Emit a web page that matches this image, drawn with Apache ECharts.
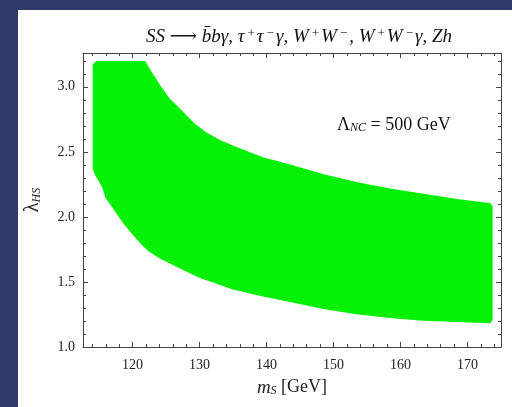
<!DOCTYPE html>
<html>
<head>
<meta charset="utf-8">
<script src="https://cdn.jsdelivr.net/npm/echarts@6/dist/echarts.min.js"></script>
<style>html,body{margin:0;padding:0;background:#2e3a6c;}#c{width:512px;height:407px;}</style>
</head>
<body>
<div id="c"></div>
<script>
// Band boundary (allowed region)
var upperX = [114.2, 114.6, 121.8, 122.5, 124.1, 125.5, 127.5, 129.2, 131.0, 133.0, 135.0, 137.2, 139.5, 141.7, 143.9, 148.5, 153.4, 158.4, 163.4, 168.4, 173.3, 173.6];
var upperY = [3.17, 3.19, 3.19, 3.13, 3.00, 2.90, 2.80, 2.71, 2.64, 2.585, 2.54, 2.495, 2.45, 2.42, 2.39, 2.32, 2.26, 2.21, 2.17, 2.13, 2.10, 2.08];
var lowerX = [114.2, 114.6, 115.6, 116.1, 117.6, 118.8, 120.1, 121.3, 122.5, 124.2, 126.0, 128.0, 130.0, 132.5, 135.0, 139.5, 143.9, 148.5, 153.4, 158.4, 163.4, 168.4, 173.3, 173.6];
var lowerY = [2.37, 2.32, 2.23, 2.15, 2.04, 1.95, 1.87, 1.80, 1.74, 1.685, 1.64, 1.59, 1.54, 1.495, 1.45, 1.395, 1.35, 1.30, 1.26, 1.23, 1.21, 1.20, 1.19, 1.21];

var xMajorTicks = [120, 130, 140, 150, 160, 170];
var xMinorTicks = [114, 116, 118, 122, 124, 126, 128, 132, 134, 136, 138, 142, 144, 146, 148, 152, 154, 156, 158, 162, 164, 166, 168, 172, 174];
var yMajorTicks = [1.0, 1.5, 2.0, 2.5, 3.0];
var yMinorTicks = [1.1, 1.2, 1.3, 1.4, 1.6, 1.7, 1.8, 1.9, 2.1, 2.2, 2.3, 2.4, 2.6, 2.7, 2.8, 2.9, 3.1, 3.2];

var X_MIN = 112.6, X_MAX = 175, Y_MIN = 1.0, Y_MAX = 3.26;
var serif = '"Liberation Serif","DejaVu Serif",serif';
var axisCol = '#444';

function xAx(pos, ticks, len, showLabel, showLine, name) {
  return {
    type: 'value', position: pos, min: X_MIN, max: X_MAX,
    axisLine: {show: showLine, onZero: false, lineStyle: {color: axisCol, width: 1}},
    axisTick: {show: true, inside: true, length: len, customValues: ticks, lineStyle: {color: axisCol}},
    axisLabel: {show: showLabel, customValues: xMajorTicks, margin: 11, color: '#222', fontFamily: serif, fontSize: 14},
    splitLine: {show: false},
    name: name || '', nameLocation: 'middle', nameGap: 31,
    nameTextStyle: {color: '#222', fontFamily: serif, fontSize: 17,
      rich: {i: {fontStyle: 'italic', fontFamily: serif, fontSize: 19, color: '#222'},
             s: {fontStyle: 'italic', fontFamily: serif, fontSize: 12, color: '#222', verticalAlign: 'bottom', lineHeight: 10},
             n: {fontFamily: serif, fontSize: 18, color: '#222'}}}
  };
}
function yAx(pos, ticks, len, showLabel, showLine, name) {
  return {
    type: 'value', position: pos, min: Y_MIN, max: Y_MAX,
    axisLine: {show: showLine, onZero: false, lineStyle: {color: axisCol, width: 1}},
    axisTick: {show: true, inside: true, length: len, customValues: ticks, lineStyle: {color: axisCol}},
    axisLabel: {show: showLabel, customValues: yMajorTicks, margin: 8, color: '#222', fontFamily: serif, fontSize: 14,
      formatter: function (v) { return v.toFixed(1); }},
    splitLine: {show: false},
    name: name || '', nameLocation: 'middle', nameGap: 40, nameRotate: 90,
    nameTextStyle: {color: '#222', fontFamily: serif, fontSize: 18,
      rich: {l: {fontFamily: serif, fontSize: 20, color: '#222'},
             s: {fontStyle: 'italic', fontFamily: serif, fontSize: 12, color: '#222', verticalAlign: 'bottom', lineHeight: 10}}}
  };
}

var tI = {fontStyle: 'italic', fontWeight: 'normal', fontFamily: serif, fontSize: 19, color: '#111', lineHeight: 20};
var tN = {fontWeight: 'normal', fontFamily: serif, fontSize: 19, color: '#111', lineHeight: 20};
var tP = {fontWeight: 'normal', fontFamily: serif, fontSize: 13, color: '#111', verticalAlign: 'top', lineHeight: 11, padding: [0, 2, 0, 3]};

var chart = echarts.init(document.getElementById('c'), null, {renderer: 'canvas'});
var option = {
  backgroundColor: '#2e3a6c',
  animation: false,
  title: {
    left: 294, top: 22, textAlign: 'center',
    text: '{i|SS }{n|⟶ }{i|b̄bγ, τ}{p|+}{i|τ}{p|−}{i|γ, W}{p|+}{i|W}{p|−}{i|, W}{p|+}{i|W}{p|−}{i|γ, Zh}',
    textStyle: {fontWeight: 'normal', rich: {i: tI, n: tN, p: tP}}
  },
  graphic: [
    {type: 'rect', z: -100, shape: {x: 18, y: 10, width: 494, height: 397}, style: {fill: '#ffffff'}},
    {type: 'text', x: 337, y: 125, z: 10,
      style: {text: '{L|Λ}{s|NC}{n| = 500 GeV}', textVerticalAlign: 'middle', textAlign: 'left',
        rich: {L: {fontFamily: serif, fontSize: 18, fill: '#111', lineHeight: 18},
               s: {fontFamily: serif, fontStyle: 'italic', fontSize: 12, fill: '#111', verticalAlign: 'bottom', lineHeight: 10},
               n: {fontFamily: serif, fontSize: 18, fill: '#111', lineHeight: 18}}}}
  ],
  grid: {left: 83, top: 53, right: 11, bottom: 60, containLabel: false},
  xAxis: [
    xAx('bottom', xMajorTicks, 5, true, true, '{i|m}{s|S}{n| [GeV]}'),
    xAx('bottom', xMinorTicks, 3, false, false),
    xAx('top', xMajorTicks, 5, false, true),
    xAx('top', xMinorTicks, 3, false, false)
  ],
  yAxis: [
    yAx('left', yMajorTicks, 5, true, true, '{l|λ}{s|HS}'),
    yAx('left', yMinorTicks, 3, false, false),
    yAx('right', yMajorTicks, 5, false, true),
    yAx('right', yMinorTicks, 3, false, false)
  ],
  series: [{
    type: 'custom',
    xAxisIndex: 0, yAxisIndex: 0,
    data: [[upperX[0], upperY[0]]],
    renderItem: function (params, api) {
      var pts = [];
      for (var i = 0; i < upperX.length; i++) pts.push(api.coord([upperX[i], upperY[i]]));
      for (var j = lowerX.length - 1; j >= 0; j--) pts.push(api.coord([lowerX[j], lowerY[j]]));
      return {type: 'polygon', shape: {points: pts},
        style: {fill: '#04f004', stroke: '#04f004', lineWidth: 2, lineJoin: 'round'}};
    }
  }]
};
chart.setOption(option);
</script>
</body>
</html>
